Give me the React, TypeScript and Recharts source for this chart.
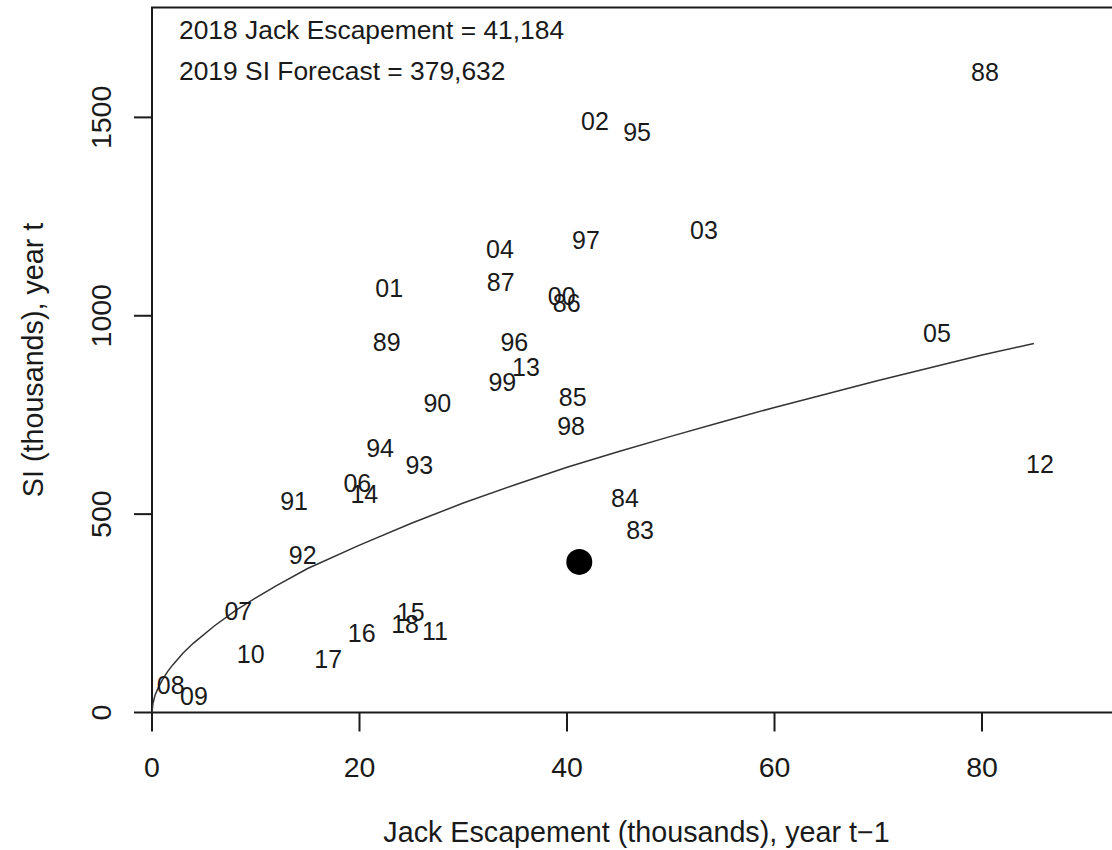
import React from 'react';
import { ScatterChart, Scatter, XAxis, YAxis, ReferenceArea, Customized } from 'recharts';

// Year labels and their coordinates (thousands)
const yearLabels = ['83','84','85','86','87','88','89','90','91','92','93','94','95','96','97','98','99','00','01','02','03','04','05','06','07','08','09','10','11','12','13','14','15','16','17','18'];
const jackEscapement = [47.04, 45.59, 40.55, 39.97, 33.61, 80.29, 22.62, 27.5, 13.69, 14.52, 25.77, 21.98, 46.75, 34.92, 41.83, 40.39, 33.77, 39.49, 22.87, 42.7, 53.2, 33.54, 75.66, 19.79, 8.32, 1.8, 4.05, 9.51, 27.28, 85.59, 36.05, 20.47, 24.93, 20.21, 16.99, 24.39];
const siValues = [460, 540, 795, 1033, 1084, 1614, 934, 781, 534, 397, 625, 666, 1463, 934, 1191, 722, 832, 1050, 1071, 1490, 1216, 1168, 956, 578, 257, 69, 42, 147, 205, 626, 870, 551, 254, 201, 134, 223];

// Fitted curve
const curveX = [0, 0.1, 0.3, 0.6, 1, 1.5, 2, 3, 4, 6, 8, 10, 12, 15, 20, 25, 30, 35, 40, 45, 50, 55, 60, 65, 70, 75, 80, 85];
const curveY = [0, 24, 44, 62, 82, 103, 120, 150, 175, 218, 256, 289, 320, 363, 422, 477, 528, 574, 618, 658, 696, 733, 769, 803, 837, 869, 901, 930];

// Forecast point
const forecastX = [41.184];
const forecastY = [379.632];

const xTicks = [0, 20, 40, 60, 80];
const yTicks = [0, 500, 1000, 1500];
const xDomain = [0, 93.3];
const yDomain = [0, 1777];

const annotations = ['2018 Jack Escapement = 41,184', '2019 SI Forecast = 379,632'];
const xTitle = 'Jack Escapement (thousands), year t\u22121';
const yTitle = 'SI (thousands), year t';

const FONT = '"Liberation Sans", Arimo, Arial, Helvetica, sans-serif';
const INK = '#1a1a1a';

const labelData = yearLabels.map((label, i) => ({ x: jackEscapement[i], y: siValues[i], label }));
const curveData = curveX.map((x, i) => ({ x, y: curveY[i] }));
const forecastData = forecastX.map((x, i) => ({ x, y: forecastY[i] }));

const LabelShape = (props: any) => (
  <text
    x={props.cx}
    y={props.cy}
    dy={9}
    textAnchor="middle"
    fontSize={25}
    fontFamily={FONT}
    fill={INK}
  >
    {props.payload.label}
  </text>
);

const EmptyShape = () => <g />;

const DotShape = (props: any) => <circle cx={props.cx} cy={props.cy} r={13} fill="#000" />;

const YTick = (props: any) => {
  const { y, payload } = props;
  return (
    <text
      transform={`translate(110.5, ${y}) rotate(-90)`}
      textAnchor="middle"
      fontSize={28.5}
      fontFamily={FONT}
      fill={INK}
    >
      {payload.value}
    </text>
  );
};

const Extras = () => (
  <g>
    {annotations.map((t, i) => (
      <text key={i} x={179} y={39 + i * 41} fontSize={26.4} fontFamily={FONT} fill={INK}>
        {t}
      </text>
    ))}
    <text x={636.5} y={842} textAnchor="middle" fontSize={28.7} fontFamily={FONT} fill={INK}>
      {xTitle}
    </text>
    <text
      transform={`translate(43, 360) rotate(-90)`}
      textAnchor="middle"
      fontSize={28.7}
      fontFamily={FONT}
      fill={INK}
    >
      {yTitle}
    </text>
  </g>
);

export default function App() {
  return (
    <div
      style={{
        position: 'absolute',
        left: 0,
        top: 0,
        width: 1112,
        height: 850,
        overflow: 'hidden',
        background: '#fff',
      }}
    >
      <ScatterChart width={1130} height={850} margin={{ top: 7.5, right: 10, bottom: 0, left: 0 }}>
        <XAxis
          type="number"
          dataKey="x"
          domain={xDomain}
          ticks={xTicks}
          allowDataOverflow
          axisLine={false}
          tickLine={{ stroke: INK, strokeWidth: 2 }}
          tickSize={19}
          tickMargin={25}
          height={137.5}
          tick={{ fontSize: 28.5, fill: INK, fontFamily: FONT }}
        />
        <YAxis
          type="number"
          dataKey="y"
          domain={yDomain}
          ticks={yTicks}
          allowDataOverflow
          axisLine={false}
          tickLine={{ stroke: INK, strokeWidth: 2 }}
          tickSize={18}
          width={152}
          tick={<YTick />}
        />
        <ReferenceArea
          x1={xDomain[0]}
          x2={xDomain[1]}
          y1={yDomain[0]}
          y2={yDomain[1]}
          fill="none"
          stroke={INK}
          strokeWidth={2}
          ifOverflow="visible"
        />
        <Scatter
          data={curveData}
          line={{ stroke: '#333', strokeWidth: 1.5 }}
          shape={<EmptyShape />}
          isAnimationActive={false}
        />
        <Scatter data={labelData} shape={<LabelShape />} isAnimationActive={false} />
        <Scatter data={forecastData} shape={<DotShape />} isAnimationActive={false} />
        <Customized component={<Extras />} />
      </ScatterChart>
    </div>
  );
}
